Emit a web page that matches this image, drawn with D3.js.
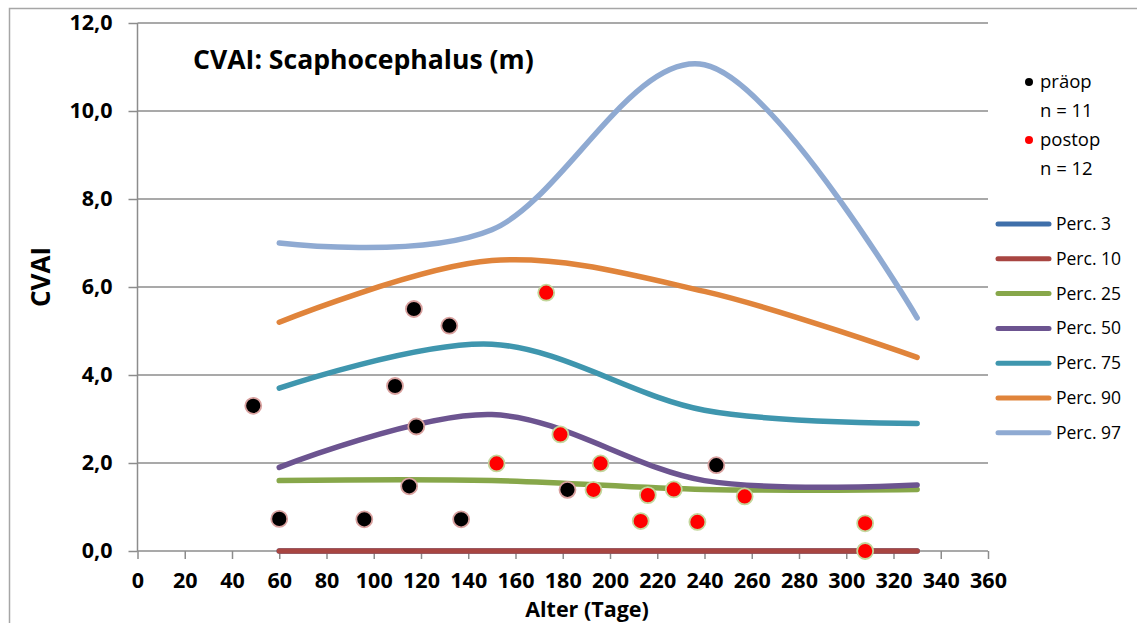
<!DOCTYPE html>
<html>
<head>
<meta charset="utf-8">
<script src="https://cdn.jsdelivr.net/npm/d3@7"></script>
<style>
  body { margin: 0; background: #fff; }
  svg { display: block; font-family: "Open Sans", Lato, sans-serif; }
</style>
</head>
<body>
<svg id="chart" width="1137" height="623"></svg>
<script>
// -- Data -- //
// Percentile knots (age in days)
const percAges = [60, 150, 240, 330];
const percNames = ["Perc. 3", "Perc. 10", "Perc. 25", "Perc. 50", "Perc. 75", "Perc. 90", "Perc. 97"];
const perc3 = [0, 0, 0, 0];
const perc10 = [0, 0, 0, 0];
const perc25 = [1.6, 1.6, 1.4, 1.4];
const perc50 = [1.9, 3.1, 1.6, 1.5];
const perc75 = [3.7, 4.7, 3.2, 2.9];
const perc90 = [5.2, 6.6, 5.9, 4.4];
const perc97 = [7.0, 7.3, 11.05, 5.3];
const percColours = ["#3f6faa", "#a84541", "#87a74a", "#6c5490", "#3f96ae", "#e0843b", "#8faad2"];

// Patients before surgery
const praeopAge = [49, 60, 96, 109, 115, 117, 118, 132, 137, 182, 245];
const praeopCvai = [3.3, 0.73, 0.72, 3.75, 1.47, 5.5, 2.83, 5.12, 0.72, 1.39, 1.95];
// Patients after surgery
const postopAge = [152, 173, 179, 193, 196, 213, 216, 227, 237, 257, 308, 308];
const postopCvai = [1.99, 5.87, 2.65, 1.39, 1.99, 0.68, 1.27, 1.4, 0.66, 1.24, 0.63, 0];

const xTicks = d3.range(0, 361, 20);
const yTicks = [0, 2, 4, 6, 8, 10, 12];

// -- Layout -- //
const svg = d3.select("#chart");
const plot = {left: 137.5, right: 988, top: 23, bottom: 551};
const x = d3.scaleLinear().domain([0, 360]).range([plot.left, plot.right]);
const y = d3.scaleLinear().domain([0, 12]).range([plot.bottom, plot.top]);
const grid = "#8c8c8c";

// Outer chart border (left and top only visible)
svg.append("path")
  .attr("d", "M9.5,623 L9.5,8.5 L1137,8.5")
  .attr("fill", "none")
  .attr("stroke", "#a6a6a6")
  .attr("stroke-width", 1.5);

// Horizontal gridlines
svg.append("g").selectAll("line")
  .data(yTicks.filter(d => d > 0))
  .join("line")
  .attr("x1", plot.left).attr("x2", plot.right)
  .attr("y1", d => y(d)).attr("y2", d => y(d))
  .attr("stroke", grid).attr("stroke-width", 1.5);

// Axes
let yAxis = svg.append("g")
  .attr("transform", `translate(${plot.left},0)`)
  .call(d3.axisLeft(y).tickValues(yTicks).tickSize(9).tickPadding(16)
    .tickFormat(d => d3.format(".1f")(d).replace(".", ",")));
let xAxis = svg.append("g")
  .attr("transform", `translate(0,${plot.bottom})`)
  .call(d3.axisBottom(x).tickValues(xTicks).tickSize(8).tickPadding(14));
[yAxis, xAxis].forEach(a => {
  a.select(".domain").attr("stroke", grid).attr("stroke-width", 1.5);
  a.selectAll(".tick line").attr("stroke", grid).attr("stroke-width", 1.5);
  a.selectAll("text").attr("fill", "#000").attr("font-family", "Open Sans")
    .attr("font-weight", "bold").attr("font-size", 21.5);
});
yAxis.select(".domain").attr("d", `M0,${plot.top}V${plot.bottom}`);
xAxis.select(".domain").attr("d", `M${plot.left},0H${plot.right}`);

// Axis titles
svg.append("text")
  .attr("transform", "translate(50,277) rotate(-90)")
  .attr("text-anchor", "middle")
  .attr("font-weight", "bold").attr("font-size", 26)
  .text("CVAI");
svg.append("text")
  .attr("x", 587).attr("y", 617)
  .attr("text-anchor", "middle")
  .attr("font-weight", "bold").attr("font-size", 21.5)
  .text("Alter (Tage)");

// Title
svg.append("text")
  .attr("x", 193).attr("y", 69)
  .attr("font-weight", "bold").attr("font-size", 26.6)
  .text("CVAI: Scaphocephalus (m)");

// Percentile curves
const percSeries = [perc3, perc10, perc25, perc50, perc75, perc90, perc97];
const line = d3.line()
  .x((d, i) => x(percAges[i]))
  .y(d => y(d))
  .curve(d3.curveCardinal.tension(0));
svg.append("g").selectAll("path")
  .data(percSeries)
  .join("path")
  .attr("d", line)
  .attr("fill", "none")
  .attr("stroke", (d, i) => percColours[i])
  .attr("stroke-width", 5.5)
  .attr("stroke-linecap", "round");

// Patient markers
function drawPoints(ages, vals, fill, stroke) {
  svg.append("g").selectAll("circle")
    .data(ages)
    .join("circle")
    .attr("cx", d => x(d))
    .attr("cy", (d, i) => y(vals[i]))
    .attr("r", 8)
    .attr("fill", fill)
    .attr("stroke", stroke)
    .attr("stroke-width", 1.8);
}
drawPoints(praeopAge, praeopCvai, "#000", "#d9a19f");
drawPoints(postopAge, postopCvai, "#ff0000", "#c3d69b");

// Marker legend
const markLegend = [
  {label: "präop", n: "n = 11", colour: "#000"},
  {label: "postop", n: "n = 12", colour: "#ff0000"},
];
let ml = svg.append("g").selectAll("g")
  .data(markLegend)
  .join("g")
  .attr("transform", (d, i) => `translate(1029,${88 + i * 58})`);
ml.append("circle").attr("cx", 0).attr("cy", -6).attr("r", 4)
  .attr("fill", d => d.colour);
ml.append("text").attr("x", 11).attr("y", 0).attr("font-size", 18.5)
  .text(d => d.label);
ml.append("text").attr("x", 11).attr("y", 29).attr("font-size", 18.5)
  .text(d => d.n);

// Percentile legend
let pl = svg.append("g").selectAll("g")
  .data(percNames)
  .join("g")
  .attr("transform", (d, i) => `translate(0,${224 + i * 34.8})`);
pl.append("line")
  .attr("x1", 998).attr("x2", 1049)
  .attr("stroke", (d, i) => percColours[i])
  .attr("stroke-width", 5)
  .attr("stroke-linecap", "round");
pl.append("text").attr("x", 1056).attr("y", 6).attr("font-size", 17.5)
  .text(d => d);
</script>
</body>
</html>
